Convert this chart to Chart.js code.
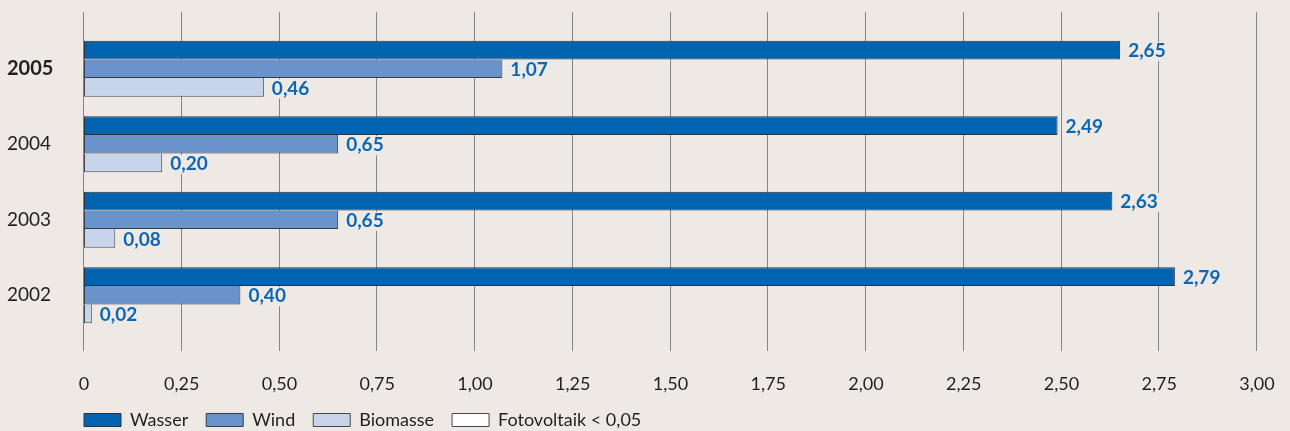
<!DOCTYPE html>
<html>
<head>
<meta charset="utf-8">
<script src="https://cdn.jsdelivr.net/npm/chart.js@4.4.1/dist/chart.umd.min.js"></script>
<style>
  html, body { margin: 0; padding: 0; background: #eee9e5; }
  #wrap { width: 1290px; height: 431px; }
</style>
</head>
<body>
<div id="wrap"><canvas id="c" width="1290" height="431"></canvas></div>
<script>
const categories = ['2005', '2004', '2003', '2002'];
const wasser = [2.65, 2.49, 2.63, 2.79];
const wind = [1.07, 0.65, 0.65, 0.40];
const biomasse = [0.46, 0.20, 0.08, 0.02];
const seriesNames = ['Wasser', 'Wind', 'Biomasse', 'Fotovoltaik < 0,05'];
const xTickValues = [0, 0.25, 0.5, 0.75, 1, 1.25, 1.5, 1.75, 2, 2.25, 2.5, 2.75, 3];

const BG = '#eee9e5';
const TEXT = '#231f20';
const LABEL_BLUE = '#0b67b4';
const FONT = 'Lato, "Open Sans", sans-serif';

function fmt(v) { return v === 0 ? '0' : v.toFixed(2).replace('.', ','); }

const bgPlugin = {
  id: 'bg',
  beforeDraw(chart) {
    const ctx = chart.ctx;
    ctx.save();
    ctx.fillStyle = BG;
    ctx.fillRect(0, 0, chart.width, chart.height);
    ctx.restore();
  }
};

const gridPlugin = {
  id: 'customGrid',
  beforeDatasetsDraw(chart) {
    const { ctx, chartArea } = chart;
    const xs = chart.scales.x;
    ctx.save();
    ctx.strokeStyle = '#858585';
    ctx.lineWidth = 1;
    xs.ticks.forEach(t => {
      const px = Math.round(xs.getPixelForValue(t.value)) - 0.5;
      ctx.beginPath();
      ctx.moveTo(px, chartArea.top - 19);
      ctx.lineTo(px, chartArea.bottom + 18);
      ctx.stroke();
    });
    ctx.restore();
  }
};

const valueLabelPlugin = {
  id: 'valueLabels',
  afterDatasetsDraw(chart) {
    const ctx = chart.ctx;
    ctx.save();
    ctx.font = 'bold 19px ' + FONT;
    ctx.textBaseline = 'middle';
    ctx.textAlign = 'left';
    chart.data.datasets.forEach((ds, di) => {
      const meta = chart.getDatasetMeta(di);
      meta.data.forEach((el, i) => {
        const txt = fmt(ds.data[i]);
        const x = el.x + 8;
        const y = el.y + 1;
        const w = ctx.measureText(txt).width;
        ctx.fillStyle = BG;
        ctx.fillRect(x - 2, y - 9, w + 4, 19);
        ctx.fillStyle = LABEL_BLUE;
        ctx.fillText(txt, x, y);
      });
    });
    ctx.restore();
  }
};

const legendShift = {
  id: 'legendShift',
  afterLayout(chart) {
    const lg = chart.legend;
    if (lg) {
      const pad = lg.options.labels.padding;
      const dx = 84 - (lg.left + pad);
      lg.left += dx; lg.right += dx;
      const h = lg.height;
      lg.top = 393; lg.bottom = lg.top + h;
    }
    const xs = chart.scales.x;
    xs.bottom = chart.height;
    xs.height = xs.bottom - xs.top;
  }
};

const chart = new Chart(document.getElementById('c'), {
  type: 'bar',
  data: {
    labels: categories,
    datasets: [
      { label: seriesNames[0], data: wasser, backgroundColor: '#0064b0', borderColor: '#2a3440',
        borderWidth: 1, borderSkipped: false },
      { label: seriesNames[1], data: wind, backgroundColor: '#6a93cb', borderColor: '#353d48',
        borderWidth: { top: 0, right: 1, bottom: 1, left: 1 }, borderSkipped: false },
      { label: seriesNames[2], data: biomasse, backgroundColor: '#c8d4ea', borderColor: '#454850',
        borderWidth: { top: 0, right: 1, bottom: 1, left: 1 }, borderSkipped: false }
    ]
  },
  options: {
    indexAxis: 'y',
    responsive: false,
    animation: false,
    devicePixelRatio: 1,
    categoryPercentage: 0.745,
    barPercentage: 1,
    layout: { padding: { left: 7, right: 33, top: 31, bottom: 0 } },
    scales: {
      x: {
        min: 0, max: 3,
        afterBuildTicks(scale) { scale.ticks = xTickValues.map(v => ({ value: v })); },
        afterFit(scale) { scale.height = 52; scale.paddingLeft = 0; scale.paddingRight = 0; },
        grid: { display: false },
        border: { display: false },
        ticks: {
          padding: 32,
          color: TEXT,
          font: { family: FONT, size: 18 },
          callback: (v) => fmt(v),
          maxRotation: 0, autoSkip: false
        }
      },
      y: {
        afterFit(scale) { scale.width = 77; },
        grid: { display: false },
        border: { display: false },
        ticks: {
          crossAlign: 'far',
          color: TEXT,
          font: (ctx) => ctx.index === 0
            ? { family: FONT, size: 20, weight: 'bold' }
            : { family: FONT, size: 19 }
        }
      }
    },
    plugins: {
      tooltip: { enabled: false },
      legend: {
        position: 'bottom',
        align: 'start',
        fullSize: false,
        labels: {
          boxWidth: 37,
          boxHeight: 13,
          padding: 18,
          color: TEXT,
          font: { family: FONT, size: 18 },
          generateLabels(chart) {
            const items = Chart.defaults.plugins.legend.labels.generateLabels(chart);
            items.forEach(it => { it.lineWidth = 1; });
            items.push({
              text: seriesNames[3], fillStyle: '#ffffff', strokeStyle: '#454850',
              lineWidth: 1, hidden: false, datasetIndex: 99, fontColor: TEXT
            });
            return items;
          }
        }
      }
    }
  },
  plugins: [bgPlugin, gridPlugin, valueLabelPlugin, legendShift]
});
</script>
</body>
</html>
